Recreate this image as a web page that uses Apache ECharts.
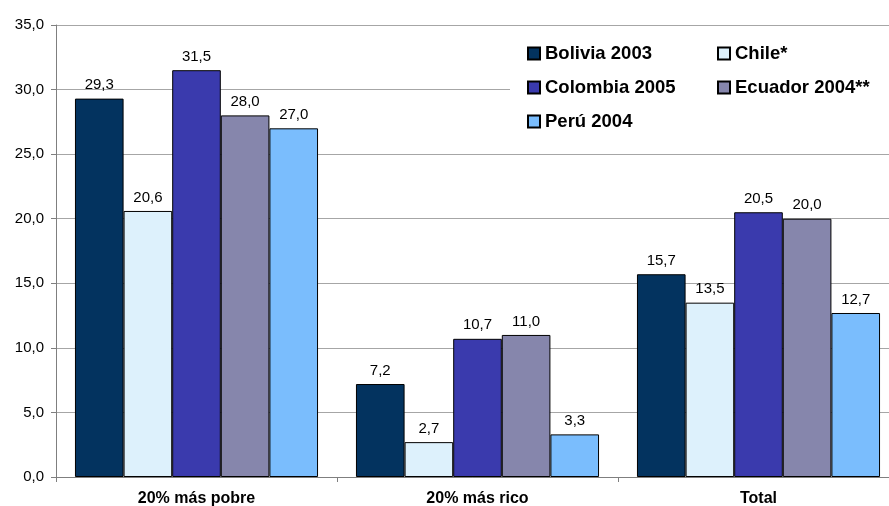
<!DOCTYPE html>
<html>
<head>
<meta charset="utf-8">
<script src="https://cdn.jsdelivr.net/npm/echarts@6/dist/echarts.min.js"></script>
<style>
  html, body { margin: 0; padding: 0; background: #fff; }
  #chart { width: 889px; height: 506px; }
</style>
</head>
<body>
<div id="chart"></div>
<script>
// Categories (population groups) and the share per country
const categories = ['20% más pobre', '20% más rico', 'Total'];
const bolivia2003 = [29.3, 7.2, 15.7];
const chile = [20.6, 2.7, 13.5];
const colombia2005 = [31.5, 10.7, 20.5];
const ecuador2004 = [28.0, 11.0, 20.0];
const peru2004 = [27.0, 3.3, 12.7];
const yTicks = { min: 0, max: 35, interval: 5 };

const seriesDefs = [
  { name: 'Bolivia 2003', data: bolivia2003, color: '#03335f' },
  { name: 'Chile*', data: chile, color: '#ddf1fc' },
  { name: 'Colombia 2005', data: colombia2005, color: '#3a3aad' },
  { name: 'Ecuador 2004**', data: ecuador2004, color: '#8686ac' },
  { name: 'Perú 2004', data: peru2004, color: '#7abdfd' }
];

const fmt = v => Number(v).toFixed(1).replace('.', ',');
const font = 'Arial, "Liberation Sans", sans-serif';

const chart = echarts.init(document.getElementById('chart'));
const legendText = { fontFamily: font, fontSize: 18.5, fontWeight: 'bold', color: '#000' };
const legendBase = {
  orient: 'vertical', top: 44,
  icon: 'rect', itemWidth: 12, itemHeight: 12, itemGap: 15,
  textStyle: legendText,
  padding: 0
};
chart.setOption({
  animation: false,
  backgroundColor: '#fff',
  // plot area runs slightly past the right edge of the canvas
  grid: { left: 56, width: 843, top: 25, bottom: 29, containLabel: false, outerBoundsMode: 'none' },
  graphic: [{
    type: 'rect', left: 510, top: 36, z: 3, silent: true,
    shape: { width: 379, height: 100 },
    style: { fill: '#fff' }
  }],
  legend: [
    Object.assign({}, legendBase, {
      data: ['Bolivia 2003', 'Colombia 2005', 'Perú 2004'], left: 527
    }),
    Object.assign({}, legendBase, {
      data: ['Chile*', 'Ecuador 2004**'], left: 717
    })
  ],
  xAxis: {
    type: 'category',
    data: categories,
    axisLine: { lineStyle: { color: '#7f7f7f', width: 1 } },
    axisTick: { show: true, length: 5, lineStyle: { color: '#7f7f7f' } },
    axisLabel: { fontFamily: font, fontSize: 16, fontWeight: 'bold', color: '#000', margin: 14 }
  },
  yAxis: {
    type: 'value',
    min: yTicks.min, max: yTicks.max, interval: yTicks.interval,
    axisLine: { show: true, lineStyle: { color: '#7f7f7f', width: 1 } },
    axisTick: { show: true, length: 5, lineStyle: { color: '#7f7f7f' } },
    axisLabel: { fontFamily: font, fontSize: 15, color: '#000', margin: 12, formatter: fmt },
    splitLine: { lineStyle: { color: '#a6a6a6', width: 1 } }
  },
  series: seriesDefs.map(s => ({
    name: s.name,
    type: 'bar',
    data: s.data,
    barGap: '0%',
    barCategoryGap: '13.5%',
    itemStyle: { color: s.color, borderColor: '#000', borderWidth: 1 },
    label: {
      show: true, position: 'top', distance: 6,
      fontFamily: font, fontSize: 15, color: '#000',
      formatter: p => fmt(p.value)
    }
  }))
});
</script>
</body>
</html>
